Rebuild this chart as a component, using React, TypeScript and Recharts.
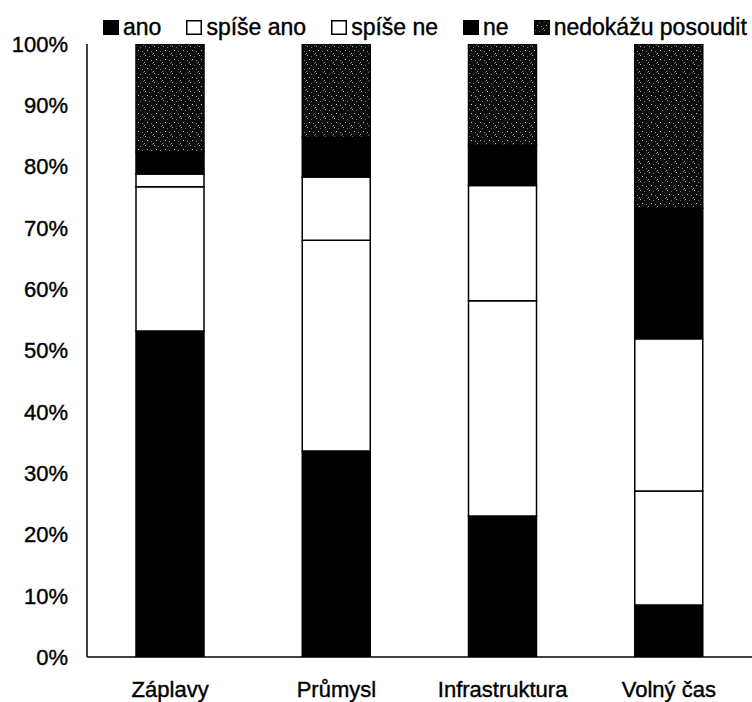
import React from 'react';
import { BarChart, Bar, XAxis, YAxis, Legend } from 'recharts';

const categories = ['Záplavy', 'Průmysl', 'Infrastruktura', 'Volný čas'];
const seriesNames = ['ano', 'spíše ano', 'spíše ne', 'ne', 'nedokážu posoudit'];
const anoValues = [53.2, 33.6, 23.0, 8.5];
const spiseAnoValues = [23.5, 34.4, 35.1, 18.6];
const spiseNeValues = [2.1, 10.3, 18.8, 24.8];
const neValues = [3.6, 6.5, 6.6, 21.3];
const nedokazuValues = [17.6, 15.2, 16.5, 26.8];
const yTicks = [0, 10, 20, 30, 40, 50, 60, 70, 80, 90, 100];

const seriesValues = [anoValues, spiseAnoValues, spiseNeValues, neValues, nedokazuValues];
const seriesKeys = ['s0', 's1', 's2', 's3', 's4'];
const seriesFills = ['#000', '#fff', '#fff', '#000', 'url(#speckle)'];

const data = categories.map((c, i) => {
  const row: Record<string, string | number> = { name: c };
  seriesKeys.forEach((k, j) => {
    row[k] = seriesValues[j][i];
  });
  return row;
});

const FONT = '"Liberation Sans", Arial, sans-serif';

const LegendContent = () => (
  <div
    style={{
      display: 'flex',
      alignItems: 'center',
      height: 30,
      width: 752,
      paddingLeft: 103,
      boxSizing: 'border-box',
      fontFamily: FONT,
      fontSize: 23,
      color: '#000',
      WebkitTextStroke: '0.4px #000',
    }}
  >
    {seriesNames.map((n, i) => (
      <div key={n} style={{ display: 'flex', alignItems: 'center', marginRight: i === seriesNames.length - 1 ? 0 : 25 }}>
        <svg width={16} height={15} style={{ marginRight: 4 }}>
          <rect
            x={0.75}
            y={0.75}
            width={14.5}
            height={13.5}
            fill={seriesFills[i]}
            stroke="#000"
            strokeWidth={1.5}
          />
        </svg>
        <span style={{ whiteSpace: 'nowrap' }}>{n}</span>
      </div>
    ))}
  </div>
);

const tickStyle = { fill: '#000', fontSize: 22, fontFamily: FONT, stroke: '#000', strokeWidth: 0.4 };

export default function App() {
  return (
    <div style={{ position: 'absolute', left: 0, top: 0, width: 752, height: 702, background: '#fff' }}>
      <svg width={0} height={0} style={{ position: 'absolute' }}>
        <defs>
          <pattern id="speckle" width={9} height={9} patternUnits="userSpaceOnUse">
            <rect x={0} y={0} width={9} height={9} fill="#0c0c0c" />
            <rect x={1} y={1} width={1} height={1} fill="#b0b0b0" />
            <rect x={5} y={2} width={1} height={1} fill="#707070" />
            <rect x={3} y={5} width={1} height={1} fill="#c8c8c8" />
            <rect x={7} y={6} width={1} height={1} fill="#808080" />
            <rect x={8} y={0} width={1} height={1} fill="#5a5a5a" />
            <rect x={0} y={8} width={1} height={1} fill="#9a9a9a" />
          </pattern>
        </defs>
      </svg>
      <BarChart
        width={752}
        height={702}
        data={data}
        margin={{ top: 14, right: 0, bottom: 0, left: 0 }}
        style={{ fontFamily: FONT }}
      >
        <Legend
          verticalAlign="top"
          align="left"
          content={LegendContent}
          wrapperStyle={{ top: 12, left: 0, width: 752, height: 30 }}
        />
        <XAxis
          dataKey="name"
          height={45}
          tickLine={false}
          tickSize={0}
          tickMargin={24}
          axisLine={{ stroke: '#000', strokeWidth: 1.5 }}
          tick={tickStyle}
          interval={0}
        />
        <YAxis
          width={87}
          domain={[0, 100]}
          ticks={yTicks}
          tickFormatter={(v: number) => `${v}%`}
          tickLine={false}
          tickSize={0}
          tickMargin={19}
          axisLine={{ stroke: '#000', strokeWidth: 1.5 }}
          tick={tickStyle}
          allowDataOverflow
        />
        {seriesKeys.map((k, i) => (
          <Bar
            key={k}
            dataKey={k}
            name={seriesNames[i]}
            stackId="a"
            fill={seriesFills[i]}
            stroke="#000"
            strokeWidth={1.5}
            barSize={68}
            isAnimationActive={false}
          />
        ))}
      </BarChart>
    </div>
  );
}
